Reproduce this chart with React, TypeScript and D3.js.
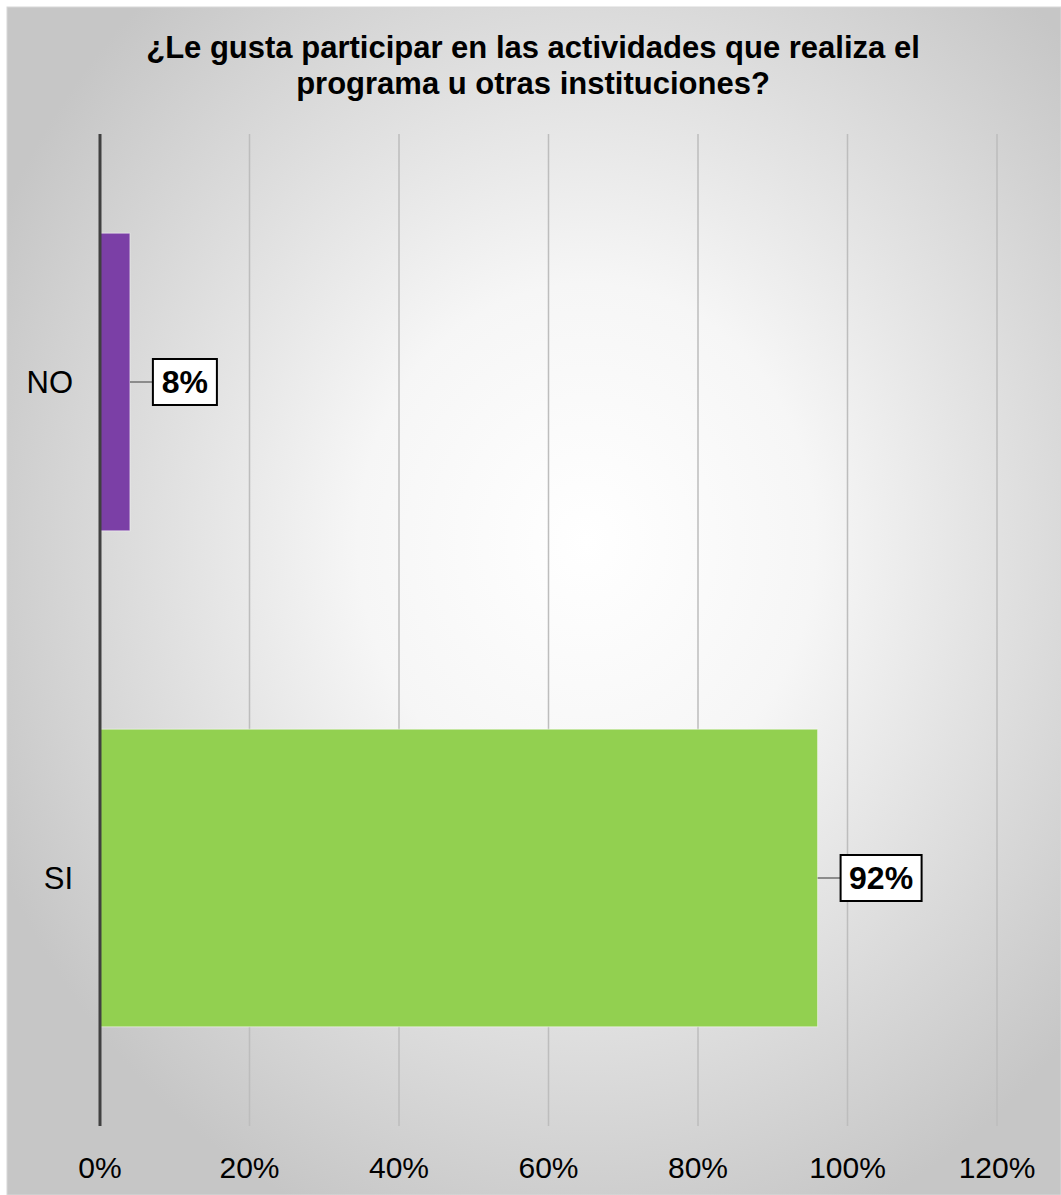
import React from "react";
import * as d3 from "d3";

const categories = ["NO", "SI"];
const barValues = [4, 96];
const valueLabels = ["8%", "92%"];
const barColors = ["#7B3FA6", "#92D050"];
const xTicks = [0, 20, 40, 60, 80, 100, 120];
const titleLines = [
  "¿Le gusta participar en las actividades que realiza el",
  "programa u otras instituciones?",
];

const W = 1061;
const H = 1195;
const plot = { left: 100, right: 997, top: 134, bottom: 1126 };

export default function App() {
  const x = d3.scaleLinear().domain([0, 120]).range([plot.left, plot.right]);
  const y = d3
    .scaleBand<string>()
    .domain(categories)
    .range([plot.top, plot.bottom])
    .paddingInner(0.4)
    .paddingOuter(0.2);
  const font = "'Liberation Sans', Arial, sans-serif";

  return (
    <div style={{ position: "absolute", left: 0, top: 0 }}>
      <svg width={W} height={H} style={{ display: "block" }} fontFamily={font}>
        <defs>
          <radialGradient id="bg" cx="0.55" cy="0.45" r="0.62">
            <stop offset="0" stopColor="#ffffff" />
            <stop offset="0.35" stopColor="#f6f6f6" />
            <stop offset="1" stopColor="#c6c6c6" />
          </radialGradient>
        </defs>
        <rect x={0} y={0} width={W} height={H} fill="#ffffff" />
        <rect x={7} y={7} width={W - 7} height={H - 7} fill="url(#bg)" stroke="#d8d8d8" strokeWidth={1} />
        {titleLines.map((t, i) => (
          <text
            key={i}
            x={533}
            y={58 + i * 36}
            textAnchor="middle"
            fontSize={31}
            fontWeight="bold"
            fill="#000"
          >
            {t}
          </text>
        ))}
        {xTicks.slice(1).map((t) => (
          <line
            key={t}
            x1={x(t)}
            x2={x(t)}
            y1={plot.top}
            y2={plot.bottom}
            stroke="#bdbdbd"
            strokeWidth={1.5}
          />
        ))}
        {categories.map((c, i) => {
          const by = y(c)!;
          const bh = y.bandwidth();
          const x1 = x(barValues[i]);
          const cy = by + bh / 2;
          const lbl = valueLabels[i];
          const boxW = lbl.length * 17 + 30;
          const boxH = 46;
          const bx = x1 + 23;
          return (
            <g key={c}>
              <rect
                x={x(0)}
                y={by}
                width={x1 - x(0)}
                height={bh}
                fill={barColors[i]}
                stroke="#ffffff"
                strokeOpacity={0.5}
                strokeWidth={1}
              />
              <line x1={x1} x2={bx} y1={cy} y2={cy} stroke="#8c8c8c" strokeWidth={2} />
              <rect x={bx} y={cy - boxH / 2} width={boxW} height={boxH} fill="#ffffff" stroke="#000" strokeWidth={2} />
              <text
                x={bx + boxW / 2}
                y={cy + 11}
                textAnchor="middle"
                fontSize={32}
                fontWeight="bold"
                fill="#000"
              >
                {lbl}
              </text>
              <text x={73} y={cy + 11} textAnchor="end" fontSize={31} fill="#000">
                {c}
              </text>
            </g>
          );
        })}
        <line x1={x(0)} x2={x(0)} y1={plot.top} y2={plot.bottom} stroke="#404040" strokeWidth={3} />
        {xTicks.map((t) => (
          <text key={t} x={x(t)} y={1178} textAnchor="middle" fontSize={30} fill="#000">
            {t}%
          </text>
        ))}
      </svg>
    </div>
  );
}
